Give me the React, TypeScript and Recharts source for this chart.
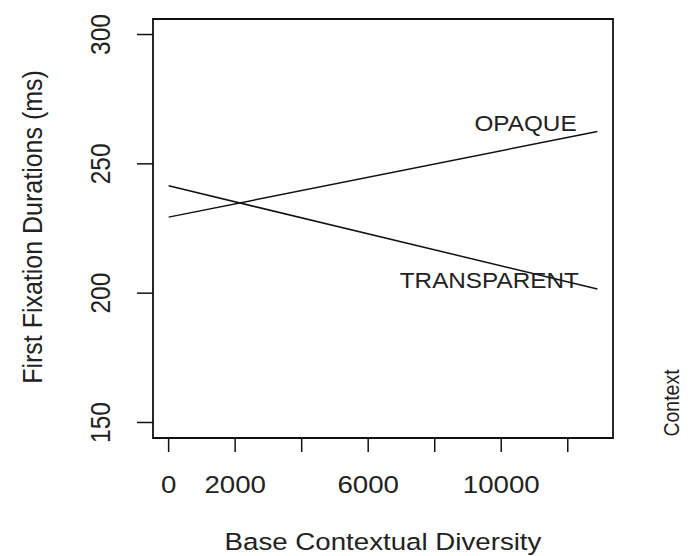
import React from "react";
import {
  LineChart,
  Line,
  XAxis,
  YAxis,
  ReferenceArea,
  ReferenceDot,
} from "recharts";

// ---- data ----
const xValues = [0, 12890];
const opaqueValues = [229.4, 262.5];
const transparentValues = [241.5, 201.6];

const xTicks = [0, 2000, 4000, 6000, 8000, 10000, 12000];
const xTickLabelsShown = [0, 2000, 6000, 10000];
const yTicks = [150, 200, 250, 300];

const seriesNames = ["OPAQUE", "TRANSPARENT"];
const seriesLabelX = [10730, 9640];
const seriesLabelY = [265.8, 205.2];

const xTitle = "Base Contextual Diversity";
const yTitle = "First Fixation Durations (ms)";
const rightTitle = "Context";

const xDomain: [number, number] = [-470, 13360];
const yDomain: [number, number] = [144, 306];

const opaqueData = xValues.map((x, i) => ({ x, y: opaqueValues[i] }));
const transparentData = xValues.map((x, i) => ({ x, y: transparentValues[i] }));

// ---- styling ----
const FONT = "'Liberation Sans', Arial, Helvetica, sans-serif";
const TEXT = "#222";
const INK = "#111";
const SX = 1.13; // horizontal stretch of the original image

const XTick = (props: any) => {
  const { x, y, payload } = props;
  if (!xTickLabelsShown.includes(payload.value)) return <g />;
  return (
    <text
      transform={`translate(${x},${y + 39}) scale(${SX},1)`}
      textAnchor="middle"
      fontFamily={FONT}
      fontSize={24.5}
      fill={TEXT}
    >
      {payload.value}
    </text>
  );
};

const YTick = (props: any) => {
  const { x, y, payload } = props;
  return (
    <text
      transform={`translate(${x - 25},${y}) scale(${SX},1) rotate(-90)`}
      textAnchor="middle"
      fontFamily={FONT}
      fontSize={24.5}
      fill={TEXT}
    >
      {payload.value}
    </text>
  );
};

const XTitle = (props: any) => {
  const vb = props.viewBox;
  return (
    <text
      transform={`translate(${vb.x + vb.width / 2},${vb.y + 112}) scale(${SX},1)`}
      textAnchor="middle"
      fontFamily={FONT}
      fontSize={24.5}
      fill={TEXT}
    >
      {xTitle}
    </text>
  );
};

const YTitle = (props: any) => {
  const vb = props.viewBox;
  return (
    <text
      transform={`translate(${vb.x + 42},${vb.y + vb.height / 2 - 1.5}) scale(${SX},1) rotate(-90)`}
      textAnchor="middle"
      fontFamily={FONT}
      fontSize={25}
      fill={TEXT}
    >
      {yTitle}
    </text>
  );
};

const RightTitle = (props: any) => {
  const vb = props.viewBox;
  return (
    <text
      transform={`translate(${vb.x + 66},${vb.y + 384}) scale(${SX},1) rotate(-90)`}
      textAnchor="middle"
      fontFamily={FONT}
      fontSize={19.5}
      fill={TEXT}
    >
      {rightTitle}
    </text>
  );
};

const makeLabelShape = (name: string) => (props: any) => (
  <text
    transform={`translate(${props.cx},${props.cy + 8}) scale(${SX},1)`}
    textAnchor="middle"
    fontFamily={FONT}
    fontSize={21.5}
    fill={TEXT}
  >
    {name}
  </text>
);

export default function App() {
  return (
    <div style={{ position: "absolute", left: 0, top: 0, background: "#fff" }}>
      <LineChart
        width={691}
        height={556}
        margin={{ top: 19, right: 0, bottom: 0, left: 0 }}
      >
        <XAxis
          dataKey="x"
          type="number"
          domain={xDomain}
          ticks={xTicks}
          interval={0}
          allowDataOverflow
          axisLine={false}
          tickLine={{ stroke: INK, strokeWidth: 1.5 }}
          tickSize={14}
          height={118}
          tick={<XTick />}
          label={<XTitle />}
        />
        <YAxis
          yAxisId="l"
          type="number"
          domain={yDomain}
          ticks={yTicks}
          interval={0}
          allowDataOverflow
          axisLine={false}
          tickLine={{ stroke: INK, strokeWidth: 1.5 }}
          tickSize={16}
          width={153}
          tick={<YTick />}
          label={<YTitle />}
        />
        <YAxis
          yAxisId="r"
          orientation="right"
          width={78}
          tick={false}
          tickLine={false}
          axisLine={false}
          label={<RightTitle />}
        />
        <ReferenceArea
          yAxisId="l"
          x1={xDomain[0]}
          x2={xDomain[1]}
          y1={yDomain[0]}
          y2={yDomain[1]}
          fill="none"
          stroke={INK}
          strokeWidth={1.8}
          ifOverflow="visible"
        />
        <Line
          yAxisId="l"
          data={opaqueData}
          dataKey="y"
          stroke={INK}
          strokeWidth={1.5}
          dot={false}
          isAnimationActive={false}
        />
        <Line
          yAxisId="l"
          data={transparentData}
          dataKey="y"
          stroke={INK}
          strokeWidth={1.5}
          dot={false}
          isAnimationActive={false}
        />
        {seriesNames.map((name, i) => (
          <ReferenceDot
            key={name}
            yAxisId="l"
            x={seriesLabelX[i]}
            y={seriesLabelY[i]}
            r={0}
            ifOverflow="visible"
            shape={makeLabelShape(name)}
          />
        ))}
      </LineChart>
    </div>
  );
}
